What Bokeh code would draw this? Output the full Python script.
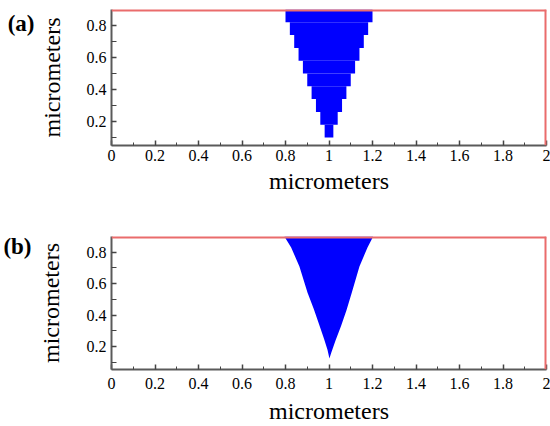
from bokeh.plotting import figure
from bokeh.layouts import column
from bokeh.models import Span, FixedTicker, Range1d, LinearAxis
from bokeh.embed import file_html
from bokeh.resources import INLINE

# ---- data ----
# panel (a): staircase rows of the groove
stair_bottom = [0.82, 0.74, 0.66, 0.58, 0.50, 0.42, 0.34, 0.26, 0.18, 0.10]
stair_top    = [0.90, 0.82, 0.74, 0.66, 0.58, 0.50, 0.42, 0.34, 0.26, 0.18]
stair_left   = [0.80, 0.82, 0.84, 0.86, 0.88, 0.90, 0.92, 0.94, 0.96, 0.98]
stair_right  = [1.20, 1.18, 1.16, 1.14, 1.12, 1.10, 1.08, 1.06, 1.04, 1.02]

# panel (b): smooth V-groove outline (left edge top->tip, right edge tip->top)
v_left_x  = [0.795, 0.826, 0.864, 0.901, 0.930, 0.955, 0.977, 0.993, 1.002]
v_left_y  = [0.900, 0.830, 0.710, 0.545, 0.440, 0.340, 0.250, 0.180, 0.125]
v_right_x = [1.010, 1.030, 1.055, 1.080, 1.105, 1.140, 1.177, 1.203]
v_right_y = [0.160, 0.240, 0.330, 0.430, 0.545, 0.710, 0.830, 0.900]

x_ticks = [0, 0.2, 0.4, 0.6, 0.8, 1, 1.2, 1.4, 1.6, 1.8, 2]
x_minor = [0.1, 0.3, 0.5, 0.7, 0.9, 1.1, 1.3, 1.5, 1.7, 1.9]
y_ticks = [0.2, 0.4, 0.6, 0.8]
y_minor = [0.1, 0.3, 0.5, 0.7]
x_label = "micrometers"
y_label = "micrometers"
panel_tags = ["(a)", "(b)"]

FONT = "Liberation Serif"
RED = "#ea6c6c"
AXIS = "#5a5a5a"
BLUE = "#0000ff"


def make_fig(y_lo, y_hi, left, top, bottom, panel, py, tag_standoff,
             yl_standoff, xt_standoff, xl_standoff):
    p = figure(width=550, height=213, output_backend="svg", toolbar_location=None,
               x_range=Range1d(0, 2), y_range=Range1d(y_lo, y_hi),
               min_border_left=left, min_border_right=4,
               min_border_top=top, min_border_bottom=bottom)
    p.grid.visible = False
    p.outline_line_color = None
    p.background_fill_color = "white"
    p.border_fill_color = "white"

    p.xaxis.ticker = FixedTicker(ticks=x_ticks, minor_ticks=x_minor)
    p.yaxis.ticker = FixedTicker(ticks=y_ticks, minor_ticks=y_minor)
    p.xaxis.major_label_overrides = {0: "0", 1: "1", 2: "2"}
    p.xaxis.axis_label = x_label
    p.yaxis.axis_label = y_label
    for ax in (p.xaxis[0], p.yaxis[0]):
        ax.axis_line_color = AXIS
        ax.axis_line_width = 2
        ax.major_tick_in = 5
        ax.major_tick_out = 0
        ax.minor_tick_in = 3
        ax.minor_tick_out = 0
        ax.major_tick_line_color = "#444444"
        ax.minor_tick_line_color = "#444444"
        ax.major_tick_line_width = 1.5
        ax.major_label_text_font = FONT
        ax.major_label_text_font_size = "16px"
        ax.major_label_text_color = "black"
        ax.axis_label_text_font = FONT
        ax.axis_label_text_font_size = "24px"
        ax.axis_label_text_font_style = "normal"
        ax.axis_label_text_color = "black"
    p.xaxis.major_label_standoff = xt_standoff
    p.xaxis.axis_label_standoff = xl_standoff
    p.yaxis.major_label_standoff = 5
    p.yaxis.axis_label_standoff = yl_standoff
    p.yaxis.minor_tick_in = 5

    # panel tag "(a)" / "(b)" as a horizontal label of an extra, bare left axis
    tag = LinearAxis(ticker=FixedTicker(ticks=[py]),
                     major_label_overrides={py: panel},
                     axis_line_color=None, major_tick_line_color=None,
                     minor_tick_line_color=None,
                     major_tick_in=0, major_tick_out=0,
                     minor_tick_in=0, minor_tick_out=0,
                     major_label_standoff=tag_standoff,
                     major_label_text_font=FONT, major_label_text_font_size="23px",
                     major_label_text_font_style="bold",
                     major_label_text_color="black")
    p.add_layout(tag, "left")

    p.add_layout(Span(location=y_hi, dimension="width", line_color=RED, line_width=4))
    p.add_layout(Span(location=2, dimension="height", line_color=RED, line_width=4))
    return p


pa = make_fig(0.05, 0.9, 107, 9, 68, panel_tags[0], 0.8125, 1, 19, 4, 4)
pa.quad(left=stair_left, right=stair_right, bottom=stair_bottom, top=stair_top,
        fill_color=BLUE, line_color=None)

pb = make_fig(0.055, 0.9, 110, 23, 52, panel_tags[1], 0.839, 3, 20, 8, 6)
pb.patch(x=v_left_x + v_right_x, y=v_left_y + v_right_y,
         fill_color=BLUE, line_color=None)

layout = column(pa, pb, spacing=0)
open("out.html", "w").write(file_html(layout, INLINE))
